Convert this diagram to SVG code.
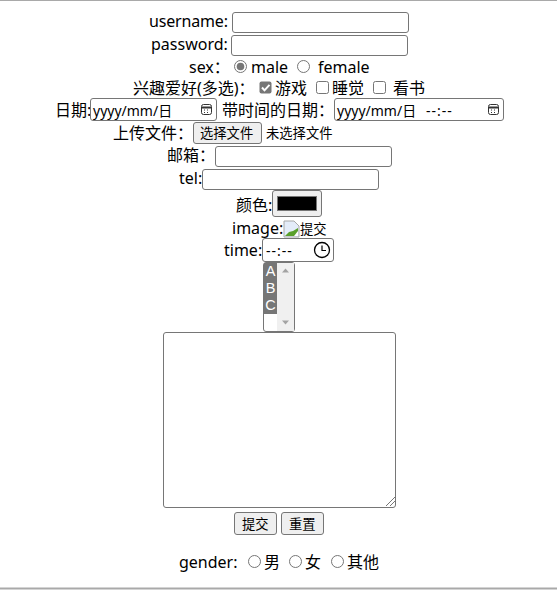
<svg xmlns="http://www.w3.org/2000/svg" width="557" height="591" viewBox="0 0 557 591">
<style>
text{font-family:"Noto Sans","Noto Sans CJK SC",sans-serif;font-size:16px;fill:#000}
.s{font-size:13.3px}
.m{font-size:14px}
.t{font-size:14px;letter-spacing:1px}
.o{font-family:"Liberation Sans","Noto Sans CJK SC",sans-serif;font-size:14.500px;fill:#fff}
.inp{fill:#fff;stroke:#767676;stroke-width:1}
.btn{fill:#efefef;stroke:#767676;stroke-width:1}
.rd{fill:#fff;stroke:#767676;stroke-width:1}
.hr{stroke:#a9a9a9;stroke-width:2;fill:none}
.ic{fill:none;stroke:#333;stroke-width:1}
</style>
<rect width="557" height="591" fill="#fff"/>
<path class="hr" d="M0 0H557M0 588.500H557"/>
<g id="username"><text x="149" y="27" textLength="79">username:</text><rect class="inp" x="232.500" y="12.500" width="176" height="20" rx="2.500"/></g>
<g id="password"><text x="151" y="50">password:</text><rect class="inp" x="231.500" y="35.500" width="176" height="20" rx="2.500"/></g>
<g id="sex"><text x="189" y="73">sex：</text><circle class="rd" cx="240.500" cy="66.500" r="6"/><circle cx="240.500" cy="66.500" r="3.800" fill="#767676"/><text x="251" y="73">male</text><circle class="rd" cx="303.500" cy="66.500" r="6"/><text x="318" y="73">female</text></g>
<g id="hobby"><text x="133" y="94">兴趣爱好(多选)：</text><rect x="259.500" y="81.500" width="12" height="12" rx="2" fill="#767676"/><path d="M262 87.500l2.500 2.800 5-5.500" fill="none" stroke="#fff" stroke-width="2"/><text x="275" y="94">游戏</text><rect class="rd" x="316.500" y="81.500" width="12" height="12" rx="2"/><text x="332" y="94">睡觉</text><rect class="rd" x="373.500" y="81.500" width="12" height="12" rx="2"/><text x="393" y="94">看书</text></g>
<g id="date"><text x="55" y="116">日期:</text><rect class="inp" x="90.500" y="98.500" width="126" height="22" rx="2.500"/><text class="m" x="93" y="116">yyyy/mm/日</text><g class="ic"><rect x="201.500" y="104.500" width="10" height="10" rx="2"/><path d="M202 107.500H211" stroke-width="2"/><path d="M204 110h1M207 110h1M204 112.500h1M207 112.500h1"/></g>
<text x="222" y="116">带时间的日期：</text><rect class="inp" x="334.500" y="98.500" width="169" height="22" rx="2.500"/><text class="m" x="337" y="116">yyyy/mm/日</text><text class="t" x="426" y="116">--:--</text><g class="ic"><rect x="488.500" y="104.500" width="10" height="10" rx="2"/><path d="M489 107.500H498" stroke-width="2"/><path d="M491 110h1M494 110h1M491 112.500h1M494 112.500h1"/></g></g>
<g id="file"><text x="113" y="139">上传文件：</text><rect class="btn" x="193.500" y="122.500" width="68" height="21" rx="2.500"/><text class="s" x="200" y="138">选择文件</text><text class="s" x="266" y="138">未选择文件</text></g>
<g id="email"><text x="167" y="161">邮箱：</text><rect class="inp" x="215.500" y="146.500" width="176" height="20" rx="2.500"/></g>
<g id="tel"><text x="179" y="184">tel:</text><rect class="inp" x="202.500" y="169.500" width="176" height="20" rx="2.500"/></g>
<g id="color"><text x="236" y="211">颜色:</text><rect class="btn" x="272.500" y="190.500" width="49" height="26" rx="2.500"/><rect x="277.500" y="196.500" width="39" height="14" fill="#000" stroke="#767676"/></g>
<g id="image"><text x="232" y="234">image:</text><path d="M284 221h10l5 5v11h-15z" fill="#e4ecf9" stroke="#a8a8a8"/><path d="M285 236l4-4 4-1 5-3v8z" fill="#5aa02c"/><path d="M294 236l4-5v5z" fill="#fff"/><text class="s" x="300" y="234">提交</text></g>
<g id="time"><text x="224" y="256">time:</text><rect class="inp" x="262.500" y="238.500" width="71" height="23" rx="2.500"/><text class="t" x="266" y="256">--:--</text><circle cx="322" cy="250" r="7.500" fill="none" stroke="#000" stroke-width="1.300"/><path d="M322 245.500V250.500H326" fill="none" stroke="#000" stroke-width="1.200"/></g>
<g id="select"><rect class="inp" x="263.500" y="262.500" width="31" height="69" rx="2.500"/><rect x="264" y="263" width="13" height="51" fill="#767676"/><rect x="277" y="263" width="17" height="68" fill="#f0f0f0"/><text class="o" x="270.500" y="276" text-anchor="middle">A</text><text class="o" x="270.500" y="293" text-anchor="middle">B</text><text class="o" x="270.500" y="309.500" text-anchor="middle">C</text><path d="M282 272.500l3.500-4 3.500 4z" fill="#a3a3a3"/><path d="M282 320.500l3.500 4 3.500-4z" fill="#a3a3a3"/></g>
<g id="textarea"><rect class="inp" x="163.500" y="332.500" width="232" height="175" rx="2.500"/><path d="M386 506l9-9M390 506l5-5" stroke="#767676" fill="none"/></g>
<g id="buttons"><rect class="btn" x="234.500" y="512.500" width="42" height="22" rx="2.500"/><text class="s" x="242" y="529">提交</text><rect class="btn" x="281.500" y="512.500" width="42" height="22" rx="2.500"/><text class="s" x="289" y="529">重置</text></g>
<g id="gender"><text x="179" y="568">gender:</text><circle class="rd" cx="254.500" cy="561.500" r="6"/><text x="264" y="568">男</text><circle class="rd" cx="295.500" cy="561.500" r="6"/><text x="305" y="568">女</text><circle class="rd" cx="337.500" cy="561.500" r="6"/><text x="347" y="568">其他</text></g>
</svg>
